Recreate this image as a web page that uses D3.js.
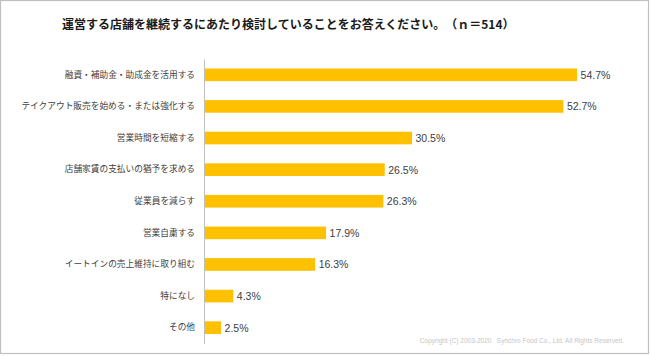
<!DOCTYPE html>
<html>
<head>
<meta charset="utf-8">
<script src="https://cdn.jsdelivr.net/npm/d3@7"></script>
<style>
  body { margin: 0; background: #fff; }
  svg { display: block; }
  text { text-spacing-trim: space-all; }
</style>
</head>
<body>
<svg id="chart" width="650" height="356"></svg>
<script>
const categories = [
  "融資・補助金・助成金を活用する",
  "テイクアウト販売を始める・または強化する",
  "営業時間を短縮する",
  "店舗家賃の支払いの猶予を求める",
  "従業員を減らす",
  "営業自粛する",
  "イートインの売上維持に取り組む",
  "特になし",
  "その他"
];
const values = [54.7, 52.7, 30.5, 26.5, 26.3, 17.9, 16.3, 4.3, 2.5];
const titleText = "運営する店舗を継続するにあたり検討していることをお答えください。（ｎ＝514）";
const copyrightText = "Copyright (C) 2003-2020\u00a0\u00a0\u00a0Synchro Food Co., Ltd. All Rights Reserved.";

const data = categories.map((c, i) => ({ cat: c, val: values[i] }));
const svg = d3.select("#chart");

// outer border
svg.append("rect")
  .attr("x", 0.5).attr("y", 0.5)
  .attr("width", 648).attr("height", 353)
  .attr("fill", "#fff")
  .attr("stroke", "#bfbfbf")
  .attr("stroke-width", 1.2);

const x0 = 204;
const x = d3.scaleLinear().domain([0, 60]).range([x0, x0 + 6.82 * 60]);
const y = d3.scaleBand().domain(categories).range([59, 343.5]).paddingInner(0.6).paddingOuter(0.3);

// title
svg.append("text")
  .attr("x", 62).attr("y", 23)
  .attr("dominant-baseline", "central")
  .attr("font-family", "'Noto Sans CJK JP', sans-serif")
  .attr("font-size", 12)
  .attr("font-weight", "bold")
  .attr("fill", "#1a1a1a")
  .style("text-spacing-trim", "space-all")
  .text(titleText);

// bars
svg.append("g").selectAll("rect").data(data).join("rect")
  .attr("x", x(0))
  .attr("y", d => y(d.cat))
  .attr("width", d => x(d.val) - x(0))
  .attr("height", y.bandwidth())
  .attr("fill", "#FFC000");

// value labels
svg.append("g").selectAll("text").data(data).join("text")
  .attr("x", d => x(d.val) + 3.5)
  .attr("y", d => y(d.cat) + y.bandwidth() / 2)
  .attr("dominant-baseline", "central")
  .attr("font-family", "'Liberation Sans', Arial, sans-serif")
  .attr("font-size", 10.5)
  .attr("fill", "#404040")
  .text(d => d.val.toFixed(1) + "%");

// y axis
const axis = svg.append("g")
  .attr("transform", `translate(${x0},0)`)
  .call(d3.axisLeft(y).tickSize(0).tickPadding(9));
axis.select(".domain").attr("stroke", "#bfbfbf").attr("stroke-width", 1);
axis.selectAll("text")
  .attr("font-family", "'Noto Sans CJK JP', sans-serif")
  .attr("font-size", 8.7)
  .attr("fill", "#404040");

// copyright
svg.append("text")
  .attr("x", 624).attr("y", 340.5)
  .attr("text-anchor", "end")
  .attr("dominant-baseline", "central")
  .attr("font-family", "'Liberation Sans', Arial, sans-serif")
  .attr("font-size", 6.5)
  .attr("fill", "#c6c6c6")
  .text(copyrightText);
</script>
</body>
</html>
